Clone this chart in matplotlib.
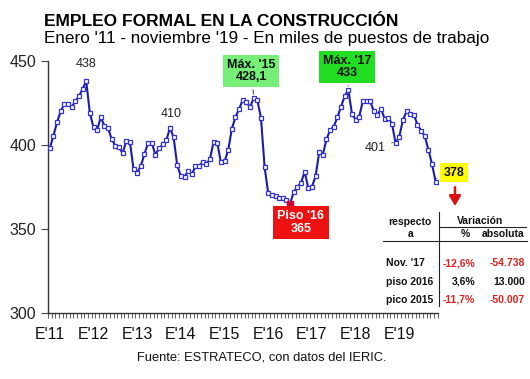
import matplotlib
matplotlib.use("Agg")
import matplotlib.pyplot as plt

plt.rcParams['font.family'] = ['Liberation Sans', 'DejaVu Sans']

# ---- data ----
values = [398, 405.6, 413.7, 420, 424.7, 424.2, 422.4, 426.2, 428.9, 433.4, 438,
          419, 410.5, 409, 416.5, 411.5, 410.2, 403.3, 399.7, 398.7, 395.1, 402.2, 401.9,
          385.5, 383.5, 387.5, 394.6, 401.3, 401.3, 394.2, 398, 400.3, 402.7, 410.2, 404.6, 387.9,
          381.5, 381, 384.7, 382.5, 387.3, 387.7, 389.6, 388.6, 391.8, 401.9, 401.3, 389.6,
          390.2, 396.9, 409.6, 416.7, 421.4, 426.9, 425.6, 422.4, 428.1, 426.7, 416.3, 386.9,
          371.3, 370.5, 369.9, 368.5, 368.2, 367.2, 365, 372.1, 375, 377.5, 384.1, 374.5,
          375.2, 381.3, 395.7, 394.3, 403.3, 409, 411, 416.5, 422.8, 429.1, 433, 418.5,
          415.1, 416.9, 426.3, 426.2, 426.2, 420, 418, 421.4, 415.5, 416.3, 412.5, 401,
          405, 414.9, 420, 418.2, 418, 412.1, 408.6, 405.2, 397.3, 388.5, 378]
year_labels = ["E'11", "E'12", "E'13", "E'14", "E'15", "E'16", "E'17", "E'18", "E'19"]
y_ticks = [300, 350, 400, 450]

table_rows = ["Nov. '17", "piso 2016", "pico 2015"]
table_pct = ["-12,6%", "3,6%", "-11,7%"]
table_abs = ["-54.738", "13.000", "-50.007"]

W, H = 530, 379
fig = plt.figure(figsize=(W / 100, H / 100), dpi=100)
ax = fig.add_axes([48 / W, 1 - 313 / H, (437.5 - 48) / W, (313 - 61) / H])

x = list(range(len(values)))
blue = '#1c1caa'
ax.plot(x, values, color=blue, lw=1.5, marker='s', markersize=3.4,
        mfc='white', mec='#3333cc', mew=0.9, zorder=3)
i_min = values.index(min(values[55:80]))
ax.plot([i_min], [values[i_min]], marker='s', markersize=4, color='#cc0033', zorder=4)

ax.set_xlim(-0.4, 106.4)
ax.set_ylim(300, 450)
ax.set_yticks(y_ticks)
ax.set_xticks([12 * i for i in range(len(year_labels))])
ax.set_xticklabels(year_labels)
ax.set_xticks([i - 0.5 for i in range(len(values) + 1)], minor=True)
ax.tick_params(axis='x', which='major', length=0, pad=10, labelsize=11.5, colors='#111111')
ax.tick_params(axis='x', which='minor', length=3.5, width=0.6, color='#444444')
ax.tick_params(axis='y', length=5, width=0.8, color='#444444', labelsize=11.5, labelcolor='#222222')
for s in ['top', 'right']:
    ax.spines[s].set_visible(False)
for s in ['left', 'bottom']:
    ax.spines[s].set_color('#333333')
    ax.spines[s].set_linewidth(1.0)

# ---- annotations ----
i438 = 10
ax.text(i438, values[i438] + 6.5, "438", ha='center', va='bottom', fontsize=9, color='#222222')
i410 = 33
ax.annotate("410", xy=(i410, values[i410] + 1), xytext=(i410 + 0.3, values[i410] + 4.5),
            ha='center', va='bottom', fontsize=9, color='#222222',
            arrowprops=dict(arrowstyle='-', color='#444444', lw=0.6))
i401 = 95
ax.annotate("401", xy=(i401 - 0.6, values[i401] + 0.5), xytext=(i401 - 2.6, values[i401] - 2.5),
            ha='right', va='center', fontsize=9, color='#222222',
            arrowprops=dict(arrowstyle='-', color='#444444', lw=0.6))

i15 = 56
ax.annotate("Máx. '15\n428,1", xy=(i15, values[i15] + 0.5), xytext=(i15 - 0.6, 444),
            ha='center', va='center', fontsize=9, fontweight='bold', color='#111111',
            linespacing=1.05,
            bbox=dict(boxstyle='square,pad=0.3', fc='#77ee77', ec='none'),
            arrowprops=dict(arrowstyle='-', color='#333333', lw=0.7), annotation_clip=False)
i17 = 82
ax.annotate("Máx. '17\n433", xy=(i17, values[i17] + 0.5), xytext=(i17 - 0.3, 446.5),
            ha='center', va='center', fontsize=9, fontweight='bold', color='#111111',
            linespacing=1.05,
            bbox=dict(boxstyle='square,pad=0.3', fc='#22dd22', ec='none'),
            arrowprops=dict(arrowstyle='-', color='#333333', lw=0.7), annotation_clip=False)
ax.text(i_min + 3, 353.8, "Piso '16\n365", ha='center', va='center', fontsize=9,
        fontweight='bold', color='white', linespacing=1.05,
        bbox=dict(boxstyle='square,pad=0.35', fc='#ee1111', ec='none'), zorder=5)
il = len(values) - 1
ax.annotate(str(int(values[il])), xy=(il + 0.2, values[il] + 2), xytext=(il + 5, 383.6),
            ha='center', va='center', fontsize=9, fontweight='bold', color='#111111',
            bbox=dict(boxstyle='square,pad=0.3', fc='#ffff00', ec='none'),
            arrowprops=dict(arrowstyle='-', color='#444444', lw=0.6), annotation_clip=False)
ax.annotate("", xy=(il + 5.3, 362), xytext=(il + 5.3, 376.5), annotation_clip=False,
            arrowprops=dict(arrowstyle='-|>,head_width=0.35,head_length=0.6',
                            color='#dd1111', lw=1.8))

# ---- table ----
def fx(px):
    return px / W

def fy(py):
    return 1 - py / H

tk = dict(fontsize=7.5, fontweight='bold', color='#111111', va='center')
fig.text(fx(410), fy(222), "respecto", ha='center', **tk)
fig.text(fx(411), fy(234), "a", ha='center', **tk)
fig.text(fx(480), fy(221), "Variación", ha='center', **tk)
fig.text(fx(465), fy(234), "%", ha='center', **tk)
fig.text(fx(525), fy(234), "absoluta", ha='right', **tk)
fig.add_artist(plt.Line2D([fx(439), fx(439)], [fy(212), fy(306)], color='#222222', lw=0.8))
fig.add_artist(plt.Line2D([fx(440), fx(526)], [fy(227), fy(227)], color='#222222', lw=0.8))
fig.add_artist(plt.Line2D([fx(383), fx(527)], [fy(240.5), fy(240.5)], color='#222222', lw=0.8))
row_y = [263, 282, 300]
for lab, p, a, yy in zip(table_rows, table_pct, table_abs, row_y):
    fig.text(fx(386), fy(yy), lab, ha='left', **tk)
    col = '#dd2222' if p.startswith('-') else '#111111'
    fig.text(fx(475), fy(yy), p, ha='right', fontsize=7.5, fontweight='bold', color=col, va='center')
    col = '#dd2222' if a.startswith('-') else '#111111'
    fig.text(fx(525), fy(yy), a, ha='right', fontsize=7.5, fontweight='bold', color=col, va='center')

# ---- titles ----
fig.text(fx(44), fy(21), "EMPLEO FORMAL EN LA CONSTRUCCIÓN", ha='left', va='center',
         fontsize=12.5, fontweight='bold', color='#000000')
fig.text(fx(44), fy(38), "Enero '11 - noviembre '19 - En miles de puestos de trabajo",
         ha='left', va='center', fontsize=12.3, color='#000000')
fig.text(fx(262), fy(358), "Fuente: ESTRATECO, con datos del IERIC.", ha='center',
         va='center', fontsize=9.3, color='#111111')

fig.savefig("out.png", dpi=100)
